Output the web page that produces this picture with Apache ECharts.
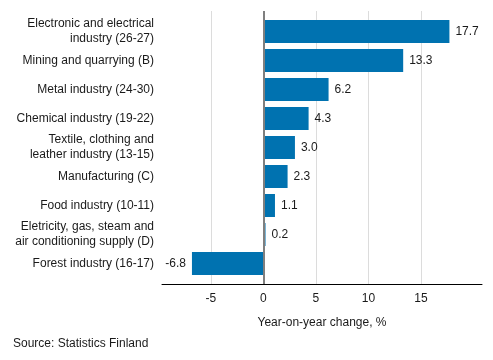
<!DOCTYPE html>
<html>
<head>
<meta charset="utf-8">
<script src="https://cdn.jsdelivr.net/npm/echarts@6/dist/echarts.min.js"></script>
<style>html,body{margin:0;padding:0;background:#fff}#c{width:493px;height:360px}</style>
</head>
<body>
<div id="c"></div>
<script>
var categories = [
  'Electronic and electrical\nindustry (26-27)',
  'Mining and quarrying (B)',
  'Metal industry (24-30)',
  'Chemical industry (19-22)',
  'Textile, clothing and\nleather industry (13-15)',
  'Manufacturing (C)',
  'Food industry (10-11)',
  'Eletricity, gas, steam and\nair conditioning supply (D)',
  'Forest industry (16-17)'
];
var values = [17.7, 13.3, 6.2, 4.3, 3.0, 2.3, 1.1, 0.2, -6.8];
var tickValues = [-5, 0, 5, 10, 15];
var axisTitle = 'Year-on-year change, %';
var sourceText = 'Source: Statistics Finland';

var FONT = '"Liberation Sans", Arial, sans-serif';
var xMin = -9.65, xMax = 20.8;
var chart = echarts.init(document.getElementById('c'), null, {renderer: 'canvas'});
chart.setOption({
  animation: false,
  textStyle: {fontFamily: FONT},
  grid: [
    {left: 162, width: 320, top: 11, height: 273, containLabel: false},
    {left: 162, width: 320, top: 17, height: 261, containLabel: false}
  ],
  graphic: [{
    type: 'text', left: 13, top: 338,
    style: {text: sourceText, fontFamily: FONT, fontSize: 12, fill: '#1a1a1a'}
  }],
  xAxis: [
    {
      type: 'value', gridIndex: 0, min: xMin, max: xMax,
      axisLine: {show: true, onZero: false, lineStyle: {color: '#000', width: 1}},
      axisTick: {show: false, customValues: tickValues},
      axisLabel: {customValues: tickValues, color: '#1a1a1a', fontSize: 12, fontFamily: FONT, margin: 9},
      splitLine: {show: true, lineStyle: {color: '#dcdcdc', width: 1}},
      name: axisTitle, nameLocation: 'middle', nameGap: 33,
      nameTextStyle: {color: '#1a1a1a', fontSize: 12, fontFamily: FONT}
    },
    {
      type: 'value', gridIndex: 1, min: xMin, max: xMax, show: false,
      splitLine: {show: false}
    }
  ],
  yAxis: [
    {type: 'value', gridIndex: 0, min: 0, max: 1, show: false, splitLine: {show: false}},
    {
      type: 'category', gridIndex: 1, data: categories, inverse: true,
      axisLine: {show: false}, axisTick: {show: false},
      axisLabel: {color: '#1a1a1a', fontSize: 12, fontFamily: FONT, margin: 8, lineHeight: 15, align: 'right'},
      splitLine: {show: false}
    }
  ],
  series: [
    {
      type: 'scatter', xAxisIndex: 0, yAxisIndex: 0, data: [[0, 0.5]], symbolSize: 0, silent: true,
      markLine: {
        silent: true, symbol: 'none', label: {show: false},
        lineStyle: {color: '#7f7f7f', width: 2, type: 'solid'},
        data: [{xAxis: 0}]
      },
      z: 3
    },
    {
      type: 'bar', xAxisIndex: 1, yAxisIndex: 1,
      barWidth: 23,
      itemStyle: {color: '#0072b0'},
      data: values.map(function (v) {
        return {value: v, label: {position: v < 0 ? 'left' : 'right'}};
      }),
      label: {
        show: true, distance: 6, color: '#1a1a1a', fontSize: 12, fontFamily: FONT,
        formatter: function (p) { return p.value.toFixed(1); }
      },
      z: 2
    }
  ]
});
</script>
</body>
</html>
